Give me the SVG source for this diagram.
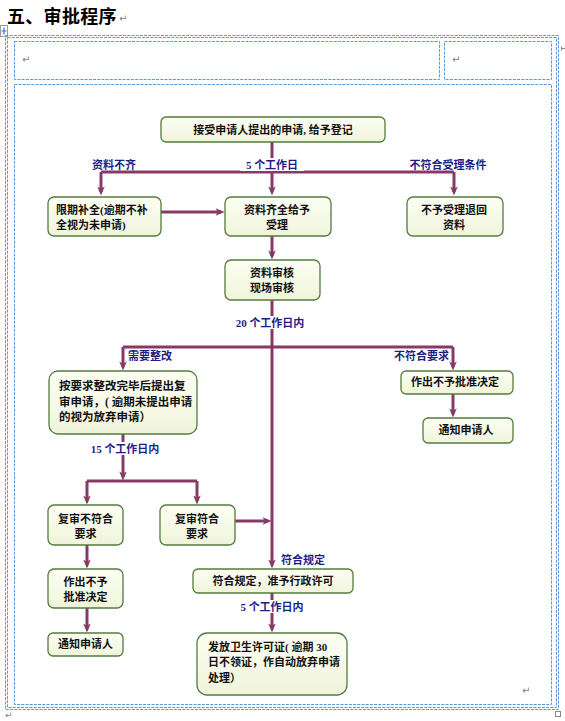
<svg xmlns="http://www.w3.org/2000/svg" width="565" height="721" viewBox="0 0 565 721">
<style>
.cell{fill:none;stroke:#5b96e3;stroke-width:1;stroke-dasharray:3 1.2}
.node rect{fill:url(#nf);stroke:#537c3e;stroke-width:1.3}
.node text{font-family:"Liberation Serif","Noto Sans CJK SC",sans-serif;font-size:11px;font-weight:bold;fill:#111}
.c{text-anchor:middle}
.conn path{fill:none;stroke:#873a67;stroke-width:3}
.conn .a{marker-end:url(#ah)}
.lbl text{font-family:"Liberation Serif","Noto Sans CJK SC",sans-serif;font-size:11px;font-weight:bold;fill:#1d1d86}
.ret{font-family:"DejaVu Sans",sans-serif;font-size:10px;fill:#7f7f7f}
</style>
<defs>
<linearGradient id="nf" x1="0" y1="0" x2="0" y2="1">
<stop offset="0" stop-color="#fdfef4"/>
<stop offset="1" stop-color="#f0f4da"/>
</linearGradient>
<marker id="ah" viewBox="0 0 10 10" refX="6" refY="5" markerWidth="10" markerHeight="9" markerUnits="userSpaceOnUse" orient="auto">
<path d="M0,0.8 L10,5 L0,9.2 L2.5,5 z" fill="#873a67"/>
</marker>
</defs>
<rect width="565" height="721" fill="#fff"/>

<text x="7" y="22.5" style="font-family:'Noto Sans CJK SC',sans-serif;font-size:18px;font-weight:bold;letter-spacing:0.3px;fill:#000">五、审批程序</text>
<text class="ret" x="119" y="22">↵</text>

<g id="table">
<rect x="0.5" y="25.5" width="7" height="11" fill="#fff" stroke="#9a9a9a" stroke-width="1"/>
<path d="M4,27.5 V34.5 M1.5,31 H6.5" stroke="#3b6fd0" stroke-width="1.2" fill="none"/>
<rect class="cell" x="5.5" y="35.5" width="553" height="674"/>
<rect class="cell" x="7.5" y="37.5" width="549" height="670"/>
<rect class="cell" x="14.5" y="41.5" width="425" height="38"/>
<rect class="cell" x="444.5" y="41.5" width="107" height="38"/>
<rect class="cell" x="14.5" y="84.5" width="537" height="620"/>
<path d="M561.5,46.5 V50.5 M561,48.5 H565" stroke="#8a8a8a" stroke-width="1.2" fill="none"/>
<rect x="555.5" y="711.5" width="5" height="5" fill="none" stroke="#8a8a8a" stroke-width="1"/>
<text class="ret" x="22" y="63">↵</text>
<text class="ret" x="452" y="63">↵</text>
<text class="ret" x="522" y="694">↵</text>
<text class="ret" x="5" y="718" style="font-size:9px">↵</text>
</g>

<g id="connectors" class="conn">
<path d="M272,142 V172"/>
<path d="M101,172 H454"/>
<path class="a" d="M101,172 V192"/>
<path class="a" d="M272,172 V192"/>
<path class="a" d="M454,172 V192"/>
<path class="a" d="M161,212 H221"/>
<path class="a" d="M272,236 V256"/>
<path class="a" d="M272,300 V565"/>
<path d="M123,347 H453"/>
<path class="a" d="M123,347 V367"/>
<path class="a" d="M453,347 V367"/>
<path class="a" d="M453,394 V414"/>
<path class="a" d="M123,434 V477"/>
<path d="M87,481 H197"/>
<path class="a" d="M87,481 V501"/>
<path class="a" d="M197,481 V501"/>
<path class="a" d="M235,521 H268"/>
<path class="a" d="M87,545 V565"/>
<path class="a" d="M87,608 V629"/>
<path class="a" d="M272,593 V629"/>
</g>

<g id="labels" class="lbl">
<rect x="240" y="158" width="64" height="13" fill="#fff"/>
<rect x="234" y="316" width="72" height="13" fill="#fff"/>
<rect x="87" y="442" width="76" height="13" fill="#fff"/>
<rect x="237" y="600" width="70" height="13" fill="#fff"/>
<text x="114" y="169" class="c">资料不齐</text>
<text x="272" y="169" class="c">5 个工作日</text>
<text x="448" y="169" class="c">不符合受理条件</text>
<text x="270" y="327" class="c">20 个工作日内</text>
<text x="128" y="360">需要整改</text>
<text x="449" y="360" style="text-anchor:end">不符合要求</text>
<text x="125" y="453" class="c">15 个工作日内</text>
<text x="281" y="564">符合规定</text>
<text x="272" y="611" class="c">5 个工作日内</text>
</g>

<g id="n1" class="node"><rect x="161" y="117" width="224" height="25" rx="5"/><text x="273" y="134" class="c">接受申请人提出的申请, 给予登记</text></g>
<g id="n2" class="node"><rect x="48" y="197" width="113" height="39" rx="6"/><text x="56" y="214">限期补全(逾期不补</text><text x="56" y="229">全视为未申请)</text></g>
<g id="n3" class="node"><rect x="225" y="197" width="106" height="39" rx="6"/><text x="277" y="214" class="c">资料齐全给予</text><text x="277" y="229" class="c">受理</text></g>
<g id="n4" class="node"><rect x="407" y="197" width="96" height="39" rx="6"/><text x="454" y="214" class="c">不予受理退回</text><text x="454" y="229" class="c">资料</text></g>
<g id="n5" class="node"><rect x="225" y="260" width="95" height="40" rx="6"/><text x="272" y="277" class="c">资料审核</text><text x="272" y="292" class="c">现场审核</text></g>
<g id="n6" class="node"><rect x="49" y="371" width="148" height="63" rx="9"/><text x="59" y="390" style="font-size:11.5px">按要求整改完毕后提出复</text><text x="59" y="405.5" style="font-size:11.5px">审申请，( 逾期未提出申请</text><text x="59" y="420.5" style="font-size:11.5px">的视为放弃申请）</text></g>
<g id="n7" class="node"><rect x="401" y="371" width="112" height="23" rx="5"/><text x="455" y="386" class="c">作出不予批准决定</text></g>
<g id="n8" class="node"><rect x="423" y="418" width="90" height="25" rx="5"/><text x="466" y="434" class="c">通知申请人</text></g>
<g id="n9" class="node"><rect x="48" y="505" width="75" height="40" rx="6"/><text x="85.5" y="523" class="c">复审不符合</text><text x="85.5" y="538" class="c">要求</text></g>
<g id="n10" class="node"><rect x="160" y="505" width="75" height="40" rx="6"/><text x="197" y="523" class="c">复审符合</text><text x="197" y="538" class="c">要求</text></g>
<g id="n11" class="node"><rect x="193" y="569" width="160" height="24" rx="5"/><text x="273" y="585" class="c">符合规定，准予行政许可</text></g>
<g id="n12" class="node"><rect x="48" y="569" width="75" height="39" rx="6"/><text x="85.5" y="585.5" class="c">作出不予</text><text x="85.5" y="600.5" class="c">批准决定</text></g>
<g id="n13" class="node"><rect x="48" y="633" width="75" height="23" rx="5"/><text x="85.5" y="648" class="c">通知申请人</text></g>
<g id="n14" class="node"><rect x="197" y="633" width="150" height="62" rx="10"/><text x="208" y="651">发放卫生许可证( 逾期 30</text><text x="208" y="666">日不领证，作自动放弃申请</text><text x="208" y="682">处理）</text></g>
</svg>
